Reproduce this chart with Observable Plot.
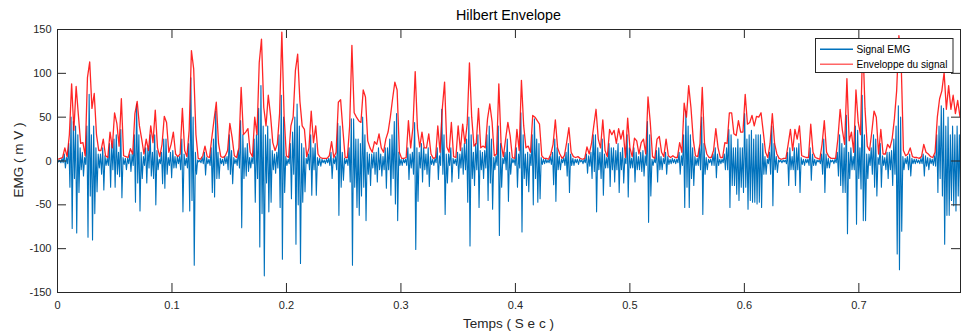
<!DOCTYPE html>
<html><head><meta charset="utf-8">
<script src="https://cdn.jsdelivr.net/npm/d3@7"></script>
<script src="https://cdn.jsdelivr.net/npm/@observablehq/plot@0.6"></script>
<style>html,body{margin:0;padding:0;background:#fff} svg{display:block}</style>
</head><body><div id="chart"></div>
<script>
// ---- data (one value per ~2.26 px column) ----
const tMax = 0.7888; // seconds, end of record
// upper extent of the EMG trace in each column (mV)
const emgMax = [
 1,1,3,8,4,20,50,45,40,30,15,10,4,40,76,30,40,15,8,8,15,6,3,20,20,25,30,10,36,4,3,3,8,8,30,65,30,10,5,15,15,30,10,30,12,2,10,25,25,4,
 10,12,5,5,5,25,8,3,20,95,50,10,1,1,4,10,4,2,15,25,57,10,3,2,5,5,30,12,4,2,12,46,30,15,20,4,4,25,30,60,86,40,30,40,25,12,8,10,30,75,
 50,5,2,20,33,50,65,40,20,15,3,8,30,15,20,4,3,2,1,2,3,10,3,5,43,40,10,3,2,15,48,48,25,25,20,50,30,10,8,8,10,10,15,8,5,15,15,25,30,45,
 54,10,2,2,2,15,8,10,44,15,10,20,15,8,15,5,2,3,15,6,59,30,8,8,15,3,2,10,8,15,20,25,50,30,10,20,30,12,10,12,30,40,25,4,6,40,20,3,10,25,
 10,3,2,15,8,55,30,8,10,8,30,48,25,20,4,2,2,1,5,10,25,15,5,2,4,10,20,8,3,2,2,2,1,2,8,6,10,30,30,15,10,25,8,4,20,15,15,12,20,10,
 15,3,30,15,3,15,10,5,10,12,6,45,30,2,2,12,15,5,3,10,5,2,3,2,2,10,6,30,57,40,30,15,5,3,15,50,20,4,2,2,8,15,8,2,2,8,15,36,30,15,
 15,25,15,15,54,25,30,35,25,30,30,30,20,5,2,10,40,20,5,1,1,1,1,10,15,5,15,15,20,4,2,2,2,15,8,2,1,1,8,25,8,3,1,1,2,10,30,20,15,52,
 10,15,5,40,35,15,75,30,8,8,15,30,25,4,20,6,4,10,10,12,25,40,63,50,5,3,5,8,3,2,2,1,3,8,6,4,3,2,6,30,40,63,60,40,50,30,40,30,40,30
];
// lower extent of the EMG trace in each column (mV)
const emgMin = [
 -1,-2,-2,-8,-3,-30,-77,-20,-82,-36,-10,-17,-4,-87,-40,-90,-60,-35,-8,-15,-33,-5,-5,-30,-10,-30,-15,-18,-42,-4,-10,-3,-12,-5,-47,-25,-57,-20,-5,-25,-8,-17,-20,-50,-10,-3,-26,-31,-15,-5,
 -19,-8,-8,-3,-10,-58,-5,-8,-57,-45,-119,-15,-1,-2,-3,-16,-3,-5,-36,-41,-20,-20,-3,-5,-3,-10,-15,-26,-3,-5,-8,-76,-20,-17,-12,-8,-3,-47,-20,-98,-60,-131,-25,-58,-47,-10,-14,-8,-53,-112,
 -36,-5,-3,-43,-15,-95,-50,-117,-47,-35,-3,-10,-39,-10,-39,-5,-6,-2,-3,-2,-5,-20,-3,-10,-62,-30,-22,-3,-5,-24,-119,-30,-53,-62,-40,-30,-68,-15,-28,-8,-15,-24,-10,-17,-10,-31,-10,-39,-20,-49,
 -68,-5,-5,-2,-5,-21,-8,-15,-101,-46,-8,-24,-10,-15,-29,-4,-5,-2,-21,-5,-15,-61,-25,-5,-24,-3,-5,-20,-8,-15,-10,-47,-97,-20,-28,-10,-53,-10,-20,-8,-45,-25,-55,-10,-5,-85,-30,-3,-10,-46,
 -15,-2,-5,-30,-8,-81,-20,-28,-35,-5,-50,-20,-47,-43,-4,-3,-2,-2,-4,-27,-46,-10,-10,-2,-5,-17,-36,-5,-5,-2,-4,-1,-3,-2,-14,-6,-20,-12,-58,-10,-20,-39,-8,-8,-29,-10,-24,-10,-36,-10,
 -25,-3,-41,-8,-8,-24,-10,-10,-12,-17,-5,-70,-40,-5,-2,-24,-10,-10,-3,-15,-4,-3,-2,-3,-2,-15,-5,-53,-30,-53,-20,-28,-5,-5,-10,-61,-15,-10,-2,-5,-5,-19,-5,-3,-2,-10,-10,-53,-28,-28,
 -38,-45,-30,-36,-30,-55,-45,-47,-47,-49,-47,-53,-15,-15,-3,-15,-51,-10,-13,-1,-2,-1,-3,-28,-10,-10,-28,-10,-36,-4,-5,-2,-5,-22,-5,-5,-1,-3,-15,-36,-8,-8,-1,-3,-2,-17,-28,-36,-36,-83,
 -20,-10,-10,-72,-20,-32,-68,-68,-20,-5,-15,-30,-40,-4,-30,-5,-10,-20,-10,-28,-15,-106,-124,-80,-10,-3,-10,-17,-3,-3,-2,-3,-3,-17,-6,-10,-3,-5,-6,-36,-20,-40,-95,-62,-62,-45,-51,-57,-40,-58
];
// Hilbert envelope in each column (mV)
const env = [
 2,3,4,15,5,30,88,35,85,52,20,21,6,95,113,60,77,30,12,12,25,6,4,33,15,55,43,17,71,6,5,4,14,8,54,68,40,25,8,25,12,40,21,58,15,5,19,51,44,10,
 19,33,8,5,8,60,12,5,35,126,105,30,3,2,6,17,5,4,26,47,67,20,5,4,6,12,43,27,6,4,15,84,30,33,37,10,5,50,30,112,139,61,40,75,52,21,12,19,54,147,
 52,6,4,40,50,103,122,68,40,36,5,15,57,21,40,8,4,3,3,3,6,22,4,10,67,70,36,4,4,40,132,55,50,46,44,81,73,23,15,10,22,19,31,15,10,25,33,50,71,90,
 81,10,3,3,4,46,15,38,102,37,16,33,15,15,31,8,3,4,40,10,60,90,16,10,44,5,4,40,12,42,20,42,112,50,17,20,60,15,17,15,48,65,45,6,8,88,20,5,25,44,
 29,4,3,36,12,92,40,15,17,10,52,50,46,42,6,3,3,2,8,19,47,15,8,3,6,21,38,10,5,4,5,3,2,3,16,8,20,40,59,25,15,47,12,5,36,30,35,20,37,25,
 35,4,49,15,5,26,23,8,21,25,8,73,44,5,3,25,28,10,5,25,6,4,6,4,4,21,10,66,50,86,61,25,6,5,20,84,20,8,4,4,12,37,15,4,4,21,20,55,55,31,
 29,46,33,33,76,42,44,52,40,51,50,55,33,10,4,20,54,20,8,3,2,3,3,19,36,12,36,25,40,6,5,4,4,42,10,4,3,2,19,46,10,5,3,3,3,25,59,35,19,94,
 23,33,10,81,44,30,139,60,17,12,33,57,50,8,36,8,8,19,15,25,48,80,143,113,12,6,8,15,5,4,4,3,5,19,10,8,5,4,10,50,71,80,101,59,86,59,75,54,69,51
];
const xTicks = [0, 0.1, 0.2, 0.3, 0.4, 0.5, 0.6, 0.7];
const yTicks = [-150, -100, -50, 0, 50, 100, 150];
const titleText = "Hilbert Envelope";
const xLabel = "Temps ( S e c )";
const yLabel = "EMG ( m V )";
const seriesNames = ["Signal EMG", "Enveloppe du signal"];
const seriesColors = ["#0072BD", "#ff0000"];

// ---- build ----
const dt = tMax / (env.length - 0.5);
const sig = [];
emgMax.forEach((hi, i) => {
  sig.push({t: i * dt, v: hi});
  sig.push({t: (i + 0.5) * dt, v: emgMin[i]});
});
const envData = env.map((v, i) => ({t: (i + 0.25) * dt, v}));

const W = 961, H = 334, mL = 57, mR = 1, mT = 29, mB = 42;
const plotW = W - mL - mR, plotH = H - mT - mB, tk = 9;
const font = "'Liberation Sans', Arial, Helvetica, sans-serif";
const axisColor = "#262626";

const chart = Plot.plot({
  width: W, height: H,
  marginLeft: mL, marginRight: mR, marginTop: mT, marginBottom: mB,
  style: {fontFamily: font, color: axisColor, background: "#fff"},
  x: {domain: [0, tMax]},
  y: {domain: [-150, 150]},
  marks: [
    Plot.lineY(sig, {x: "t", y: "v", stroke: seriesColors[0], strokeWidth: 1.1}),
    Plot.lineY(envData, {x: "t", y: "v", stroke: seriesColors[1], strokeOpacity: 0.85, strokeWidth: 1.3}),
    Plot.tickX(xTicks, {x: d => d, insetTop: plotH - tk, stroke: axisColor}),
    Plot.tickX(xTicks, {x: d => d, insetBottom: plotH - tk, stroke: axisColor}),
    Plot.tickY(yTicks, {y: d => d, insetRight: plotW - tk, stroke: axisColor}),
    Plot.tickY(yTicks, {y: d => d, insetLeft: plotW - tk, stroke: axisColor}),
    Plot.frame({stroke: axisColor}),
    Plot.axisX({ticks: xTicks, tickSize: 0, tickPadding: 9, tickFormat: d => String(d), fontSize: 11, label: null}),
    Plot.axisY({ticks: yTicks, tickSize: 0, tickPadding: 6, tickFormat: d => String(d), fontSize: 11, label: null})
  ]
});

const svg = d3.select(chart);
const cx = mL + plotW / 2;
svg.append("text").attr("x", cx).attr("y", 15).attr("text-anchor", "middle")
  .attr("dominant-baseline", "central").attr("font-family", font).attr("font-size", 14.3)
  .attr("fill", "#000").text(titleText);
svg.append("text").attr("x", cx).attr("y", 323).attr("text-anchor", "middle")
  .attr("dominant-baseline", "central").attr("font-family", font).attr("font-size", 13.5)
  .attr("fill", axisColor).text(xLabel);
svg.append("text").attr("transform", "translate(18,160) rotate(-90)").attr("text-anchor", "middle")
  .attr("dominant-baseline", "central").attr("font-family", font).attr("font-size", 13.5)
  .attr("fill", axisColor).text(yLabel);

// legend
const lg = svg.append("g");
lg.append("rect").attr("x", 815.5).attr("y", 38.5).attr("width", 137.5).attr("height", 34)
  .attr("fill", "#fff").attr("stroke", axisColor).attr("stroke-width", 1);
seriesNames.forEach((name, i) => {
  const y = 49.3 + i * 15;
  lg.append("line").attr("x1", 820).attr("x2", 853).attr("y1", y).attr("y2", y)
    .attr("stroke", seriesColors[i]).attr("stroke-width", 1.5).attr("stroke-opacity", i ? 0.6 : 1);
  lg.append("text").attr("x", 856.5).attr("y", y).attr("text-anchor", "start")
    .attr("dominant-baseline", "central")
    .attr("font-family", font).attr("font-size", 10.1).attr("fill", "#000").text(name);
});

document.getElementById("chart").appendChild(chart);
</script>
</body></html>
